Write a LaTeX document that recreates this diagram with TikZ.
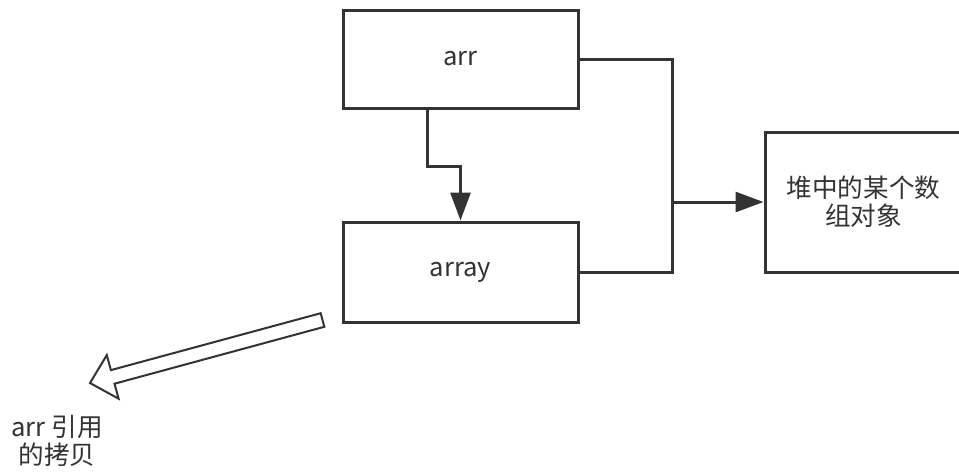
\documentclass[tikz,border=0pt]{standalone}
\usepackage{fontspec}
\setmainfont{Noto Sans CJK SC}
\usepackage{tikz}
\usetikzlibrary{scopes}
\usetikzlibrary{positioning,calc,arrows.meta}

\definecolor{ink}{HTML}{333333}
\tikzset{
    box/.style={draw=ink,line width=1.5pt,fill=white,text=ink,align=center,
        font=\fontsize{12.8}{14}\selectfont},
    wire/.style={draw=ink,line width=1.5pt},
    flow/.style={wire,-{Triangle[length=14pt,width=10pt]}}
}

\begin{document}
\begin{tikzpicture}[x=0.5pt,y=-0.5pt]
        \clip (0,0) rectangle (959,472);
        \fill[white] (0,0) rectangle (959,472);

        % variables and the heap object
        \node[box,minimum width=117.5pt,minimum height=49pt] (arr) at (460.5,59) {arr};
        \node[box,minimum width=117.5pt,minimum height=50pt] (array) at (460.5,272) {array};
        \node[box,minimum width=98.5pt,minimum height=70pt,text width=90pt] (heap) at (863.5,202) {堆中的某个数\\组对象};
        \node[text=ink,align=center,font=\fontsize{12.8}{14}\selectfont] (copy) at (57,441) {arr 引用\\的拷贝};

        \coordinate (bus) at (672,202);

        {[wire]
            \draw (arr.east) -| (bus |- array.east) -- (array.east);
        }
        \draw[flow] ([xshift=-16.75pt]arr.south) -- ++(0,57) -| (array.north);
        \draw[flow] (bus) -- (heap.west);

        % hollow arrow towards the copy
        \draw[ink,line width=1pt,fill=white,line join=miter]
            (90,383) -- (118.6,398.7) -- (114.5,383.7) -- (324.3,326.8)
            -- (320.7,313.2) -- (110.9,370.1) -- (106.8,355.1) -- cycle;
    \end{tikzpicture}
\end{document}
